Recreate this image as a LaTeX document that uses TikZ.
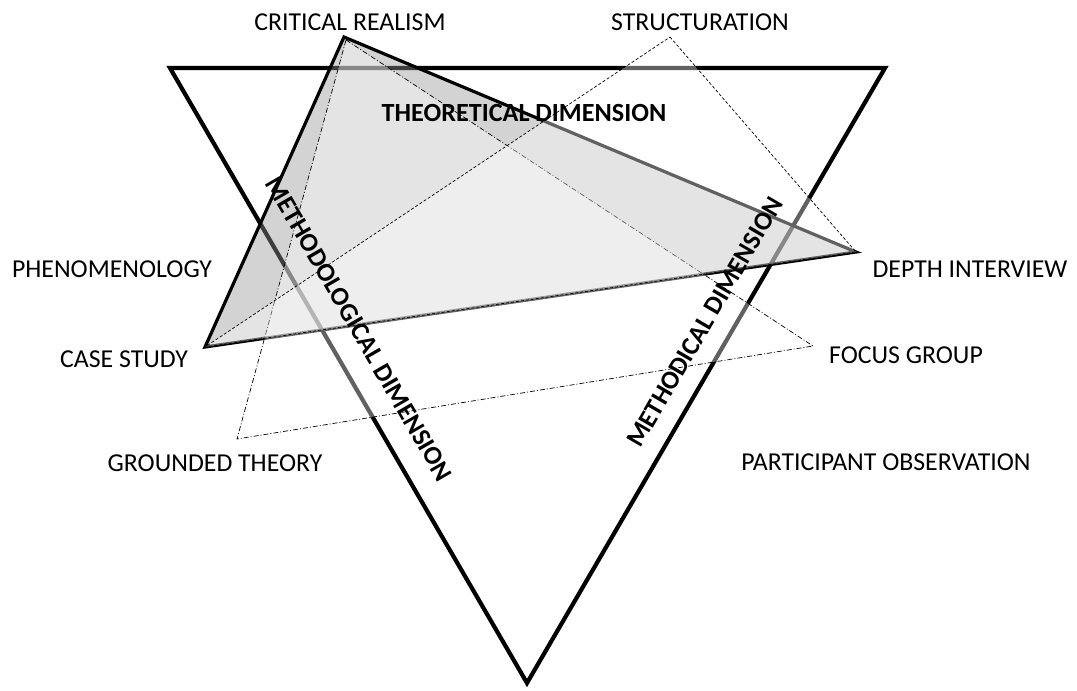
\documentclass[tikz,border=0pt]{standalone}
\usepackage{fontspec}
\setmainfont{Carlito}
\begin{document}
\begin{tikzpicture}[x=1pt,y=-1pt,
  mainedge/.style={line width=4.2pt, black, line join=miter},
  greytri/.style={fill={rgb,255:red,150;green,150;blue,150}, fill opacity=0.42, draw=none},
  greyedge/.style={line width=3.2pt, black, line join=miter},
  overlay/.style={fill=white, fill opacity=0.38},
  dashedge/.style={draw=black, line width=0.7pt, dash pattern=on 3pt off 2pt},
  dotedge/.style={draw=black, line width=0.7pt, dash pattern=on 5pt off 2pt on 1pt off 2pt},
  lab/.style={anchor=base, inner sep=0pt, font=\fontsize{25.8}{30}\selectfont},
  dimlab/.style={inner sep=0pt, font=\fontsize{26.2}{30}\selectfont\bfseries}
]
\useasboundingbox (0,0) rectangle (1077,691);
% vertices
\coordinate (TL) at (170,68);
\coordinate (TR) at (885,68);
\coordinate (BT) at (527,683);
\coordinate (CR) at (344,37);
\coordinate (DI) at (856,252);
\coordinate (CS) at (205,347);
\coordinate (ST) at (670,37);
\coordinate (CRd) at (346,40);
\coordinate (FG) at (813,346);
\coordinate (GT) at (237,439);
% main inverted triangle
\draw[mainedge] (TL) -- (TR) -- (BT) -- cycle;
% grey theoretical-methodological triangle
\path[greytri] (CR) -- (DI) -- (CS) -- cycle;
\draw[greyedge] (CR) -- (DI) -- (CS) -- cycle;
% dash-dot triangle
\path[overlay] (CRd) -- (FG) -- (GT) -- cycle;
\draw[dotedge] (CRd) -- (FG) -- (GT) -- cycle;
% dashed triangle
\path[overlay] (ST) -- (DI) -- (CS) -- cycle;
\draw[dashedge] (ST) -- (DI) -- (CS) -- cycle;
% labels
\node[lab] (lcr) at (350,30) {CRITICAL REALISM};
\node[lab] (lst) at (700,30) {STRUCTURATION};
\node[lab] (lph) at (112,277) {PHENOMENOLOGY};
\node[lab] (lcs) at (124,367) {CASE STUDY};
\node[lab] (lgt) at (215,471) {GROUNDED THEORY};
\node[lab] (ldi) at (970,277) {DEPTH INTERVIEW};
\node[lab] (lfg) at (906,363) {FOCUS GROUP};
\node[lab] (lpo) at (886,470) {PARTICIPANT OBSERVATION};
\node[dimlab, anchor=base] (ltd) at (524,121) {THEORETICAL DIMENSION};
\node[dimlab, rotate=-59.9] (lmd) at (359,329) {METHODOLOGICAL DIMENSION};
\node[dimlab, rotate=59.8] (lmc) at (705,322) {METHODICAL DIMENSION};
\end{tikzpicture}
\end{document}
